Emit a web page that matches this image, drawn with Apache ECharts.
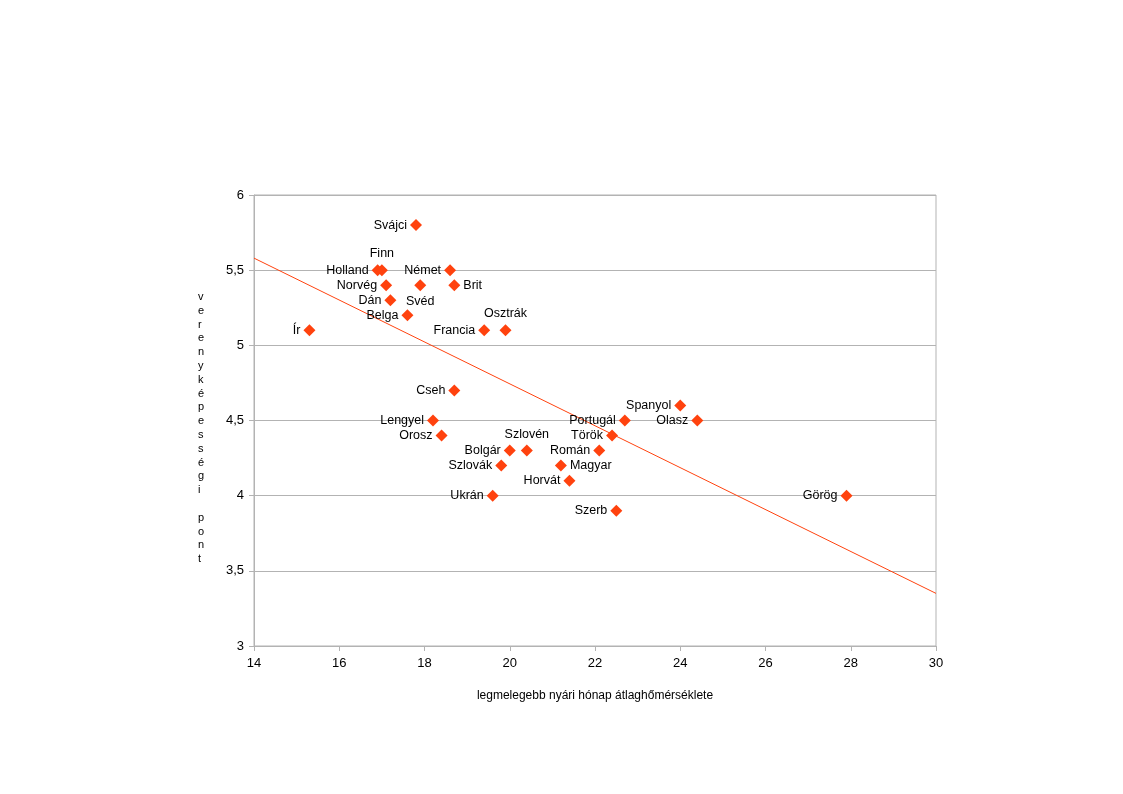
<!DOCTYPE html>
<html><head><meta charset="utf-8">
<script src="https://cdn.jsdelivr.net/npm/echarts@6/dist/echarts.min.js"></script>
<style>html,body{margin:0;padding:0;background:#fff}#c{width:1123px;height:794px}</style>
</head><body><div id="c"></div>
<script>
const countries = ['Svájci','Holland','Finn','Német','Norvég','Svéd','Brit','Dán','Belga','Ír','Francia','Osztrák','Cseh','Lengyel','Orosz','Bolgár','Szlovén','Szlovák','Ukrán','Román','Magyar','Horvát','Török','Portugál','Spanyol','Olasz','Szerb','Görög'];
const temps = [17.8,16.9,17.0,18.6,17.1,17.9,18.7,17.2,17.6,15.3,19.4,19.9,18.7,18.2,18.4,20.0,20.4,19.8,19.6,22.1,21.2,21.4,22.4,22.7,24.0,24.4,22.5,27.9];
const scores = [5.8,5.5,5.5,5.5,5.4,5.4,5.4,5.3,5.2,5.1,5.1,5.1,4.7,4.5,4.4,4.3,4.3,4.2,4.0,4.3,4.2,4.1,4.4,4.5,4.6,4.5,3.9,4.0];
const trendX = [14, 30];
const trendY = [5.58, 3.35];
const xTicks = [14,16,18,20,22,24,26,28,30];
const yTicks = [3,3.5,4,4.5,5,5.5,6];
const xTitle = 'legmelegebb nyári hónap átlaghőmérséklete';
const yTitle = 'verenyképességi pont';

const labelPos = {Finn:'top', Svéd:'bottom', Brit:'right', Osztrák:'top', Szlovén:'top', Magyar:'right'};
const col = '#ff420e';
const pts = countries.map((n,i)=>({
  value:[temps[i],scores[i]], name:n,
  label:{position: labelPos[n]||'left', distance: (labelPos[n]==='top'||labelPos[n]==='bottom')?4:3}
}));
const fmt = v => String(v).replace('.', ',');
const chart = echarts.init(document.getElementById('c'));
chart.setOption({
  animation:false,
  textStyle:{fontFamily:'Liberation Sans, Arial, sans-serif'},
  grid:{left:254,right:187,top:195,bottom:148,show:true,borderColor:'#b3b3b3',borderWidth:1},
  xAxis:{type:'value',min:14,max:30,interval:2,
    name:xTitle,nameLocation:'middle',nameGap:44,
    nameTextStyle:{color:'#000',fontSize:12},
    axisLine:{show:true,lineStyle:{color:'#b3b3b3'}},
    axisTick:{show:true,length:5,lineStyle:{color:'#b3b3b3'}},
    axisLabel:{color:'#000',fontSize:13,margin:11,formatter:v=>xTicks.includes(v)?fmt(v):''},
    splitLine:{show:false}},
  yAxis:{type:'value',min:3,max:6,interval:0.5,
    axisLine:{show:true,lineStyle:{color:'#b3b3b3'}},
    axisTick:{show:true,length:5,lineStyle:{color:'#b3b3b3'}},
    axisLabel:{color:'#000',fontSize:13,margin:10,formatter:v=>yTicks.includes(v)?fmt(v):''},
    splitLine:{show:true,lineStyle:{color:'#b3b3b3'}}},
  graphic:[{type:'text',left:198,top:290,style:{text:yTitle.split('').join('\n'),fontSize:11,lineHeight:13.8,fill:'#000',align:'center',fontFamily:'Liberation Sans, Arial, sans-serif'}}],
  series:[
    {type:'line',data:trendX.map((x,i)=>[x,trendY[i]]),symbol:'none',lineStyle:{color:col,width:1},silent:true,z:1},
    {type:'scatter',data:pts,symbol:'diamond',symbolSize:12,itemStyle:{color:col,opacity:1},z:3,
     label:{show:true,formatter:'{b}',color:'#000',fontSize:12.5}}
  ]
});
</script></body></html>
